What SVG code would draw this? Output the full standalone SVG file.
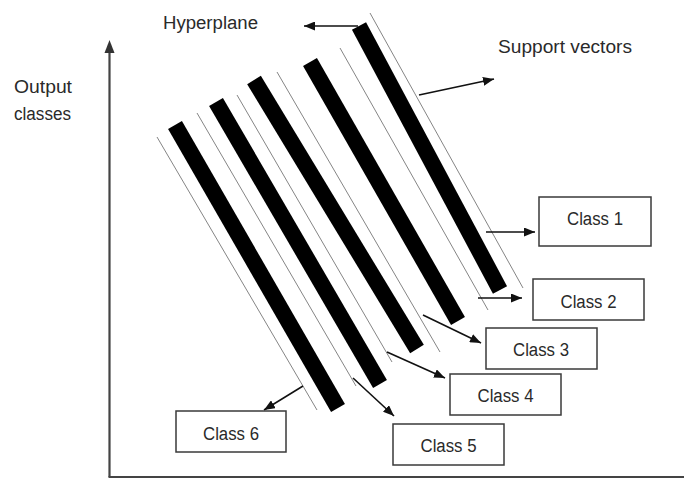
<svg xmlns="http://www.w3.org/2000/svg" width="684" height="479" viewBox="0 0 684 479">
  <style>
    .axis { stroke: #444; stroke-width: 2.2; fill: none; }
    .bar { stroke: #000; stroke-width: 16; stroke-linecap: butt; }
    .margin { stroke: #858585; stroke-width: 1; }
    .conn { stroke: #111; stroke-width: 1.6; fill: none; marker-end: url(#head); }
    .box { fill: #fff; stroke: #3a3a3a; stroke-width: 1.5; }
    .lbl { font-family: "Liberation Sans", Arial, sans-serif; font-size: 18px; fill: #2a2a2a; }
    .cls { text-anchor: middle; }
  </style>
  <defs>
    <marker id="head" viewBox="0 0 11 9" refX="11" refY="4.5" markerWidth="11" markerHeight="9" markerUnits="userSpaceOnUse" orient="auto">
      <path d="M0,0 L11,4.5 L0,9 Z" fill="#111"/>
    </marker>
  </defs>

  <rect width="684" height="479" fill="#fff"/>

  <!-- axes -->
  <g id="axes">
    <line class="axis" x1="109.5" y1="477" x2="109.5" y2="52"/>
    <path d="M109.5,40 L114.5,53 L104.5,53 Z" fill="#333"/>
    <line class="axis" x1="108.5" y1="477" x2="684" y2="477" stroke-width="2.5"/>
  </g>

  <!-- thin margin lines (support vectors) -->
  <g id="margins">
    <line class="margin" x1="157" y1="137" x2="317" y2="410"/>
    <line class="margin" x1="197" y1="113" x2="356" y2="386"/>
    <line class="margin" x1="237" y1="95" x2="392" y2="362"/>
    <line class="margin" x1="277" y1="72" x2="440" y2="352"/>
    <line class="margin" x1="340" y1="48" x2="488" y2="310"/>
    <line class="margin" x1="370" y1="13" x2="523" y2="288"/>
  </g>

  <!-- hyperplanes -->
  <g id="hyperplanes">
    <line class="bar" x1="359" y1="26" x2="500" y2="290"/>
    <line class="bar" x1="310" y1="62" x2="458" y2="321"/>
    <line class="bar" x1="254" y1="80" x2="417" y2="349"/>
    <line class="bar" x1="216" y1="102" x2="380" y2="384"/>
    <line class="bar" x1="175" y1="125" x2="338" y2="408"/>
  </g>

  <!-- connectors -->
  <g id="connectors">
    <line class="conn" x1="358" y1="26" x2="304" y2="26"/>
    <line class="conn" x1="419" y1="95" x2="494" y2="79"/>
    <line class="conn" x1="486" y1="232" x2="535" y2="232"/>
    <line class="conn" x1="478" y1="298" x2="522" y2="298"/>
    <line class="conn" x1="423" y1="315" x2="481" y2="343"/>
    <line class="conn" x1="387" y1="352" x2="445" y2="378"/>
    <line class="conn" x1="353" y1="378" x2="394" y2="416"/>
    <line class="conn" x1="303" y1="386" x2="264" y2="410"/>
  </g>

  <!-- labels -->
  <g id="label-hyperplane">
    <text class="lbl" x="163" y="29" textLength="95" lengthAdjust="spacingAndGlyphs">Hyperplane</text>
  </g>
  <g id="label-support">
    <text class="lbl" x="498" y="53" textLength="134" lengthAdjust="spacingAndGlyphs">Support vectors</text>
  </g>
  <g id="label-output">
    <text class="lbl" x="14" y="93" textLength="58" lengthAdjust="spacingAndGlyphs">Output</text>
    <text class="lbl" x="14" y="120" textLength="57" lengthAdjust="spacingAndGlyphs">classes</text>
  </g>

  <!-- class nodes -->
  <g id="class1">
    <rect class="box" x="539" y="197" width="112" height="49"/>
    <text class="lbl cls" x="595" y="225" textLength="56" lengthAdjust="spacingAndGlyphs">Class 1</text>
  </g>
  <g id="class2">
    <rect class="box" x="533" y="279" width="111" height="41"/>
    <text class="lbl cls" x="588.5" y="307.5" textLength="56" lengthAdjust="spacingAndGlyphs">Class 2</text>
  </g>
  <g id="class3">
    <rect class="box" x="486" y="328" width="111" height="41"/>
    <text class="lbl cls" x="541" y="356" textLength="56" lengthAdjust="spacingAndGlyphs">Class 3</text>
  </g>
  <g id="class4">
    <rect class="box" x="450" y="374" width="111" height="41"/>
    <text class="lbl cls" x="505.5" y="402" textLength="56" lengthAdjust="spacingAndGlyphs">Class 4</text>
  </g>
  <g id="class5">
    <rect class="box" x="393" y="424" width="111" height="41"/>
    <text class="lbl cls" x="448.5" y="451.5" textLength="56" lengthAdjust="spacingAndGlyphs">Class 5</text>
  </g>
  <g id="class6">
    <rect class="box" x="176" y="411" width="110" height="41"/>
    <text class="lbl cls" x="231" y="440" textLength="56" lengthAdjust="spacingAndGlyphs">Class 6</text>
  </g>
</svg>
